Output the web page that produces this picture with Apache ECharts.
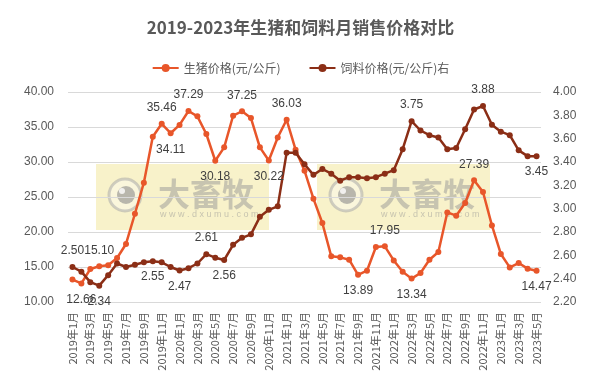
<!DOCTYPE html>
<html>
<head>
<meta charset="utf-8">
<script src="https://cdn.jsdelivr.net/npm/echarts@6/dist/echarts.min.js"></script>
<style>html,body{margin:0;padding:0;background:#fff}#c{width:601px;height:380px}</style>
</head>
<body>
<div id="c"></div>
<script>
var categories = [
'2019年1月','2019年2月','2019年3月','2019年4月','2019年5月','2019年6月','2019年7月','2019年8月','2019年9月','2019年10月','2019年11月','2019年12月',
'2020年1月','2020年2月','2020年3月','2020年4月','2020年5月','2020年6月','2020年7月','2020年8月','2020年9月','2020年10月','2020年11月','2020年12月',
'2021年1月','2021年2月','2021年3月','2021年4月','2021年5月','2021年6月','2021年7月','2021年8月','2021年9月','2021年10月','2021年11月','2021年12月',
'2022年1月','2022年2月','2022年3月','2022年4月','2022年5月','2022年6月','2022年7月','2022年8月','2022年9月','2022年10月','2022年11月','2022年12月',
'2023年1月','2023年2月','2023年3月','2023年4月','2023年5月'];
var pigPrice = [13.2,12.66,14.71,15.10,15.25,16.29,18.29,22.61,27.04,33.61,35.46,34.11,
35.3,37.29,36.52,34.0,30.18,32.09,36.61,37.25,36.28,32.09,30.22,33.51,
36.03,31.76,28.76,24.76,21.28,16.52,16.38,16.04,13.89,14.47,17.86,17.95,
15.94,14.33,13.34,14.14,16.04,17.14,22.8,22.33,24.14,27.39,25.71,20.94,
16.86,14.94,15.57,14.76,14.47];
var feedPrice = [2.50,2.46,2.37,2.34,2.43,2.53,2.50,2.52,2.54,2.55,2.54,2.50,
2.47,2.49,2.53,2.61,2.58,2.56,2.69,2.75,2.78,2.93,2.99,3.02,
3.48,3.48,3.38,3.29,3.34,3.30,3.24,3.27,3.27,3.26,3.27,3.30,
3.33,3.51,3.75,3.67,3.63,3.61,3.51,3.52,3.68,3.85,3.88,3.72,
3.66,3.63,3.50,3.45,3.45];
var pigLabelsTop = [3,10,13,19,24,35,45];
var pigLabelsBottom = [1,11,16,22,32,38,52];
var feedLabelsTop = [0,15,38,46];
var feedLabelsBottom = [3,9,12,17,52];
var leftTicks = {min:10,max:40,interval:5};
var rightTicks = {min:2.2,max:4.0,interval:0.2};

var FONT = '"Liberation Sans","Noto Sans CJK SC",sans-serif';
var PIG = '#E8562A', FEED = '#8B2E16';

function build(values, top, bottom) {
  return values.map(function(v, i){
    var d = {value: v};
    if (top.indexOf(i) >= 0) d.label = {show:true, position:'top'};
    else if (bottom.indexOf(i) >= 0) d.label = {show:true, position:'bottom'};
    return d;
  });
}

function watermark(x, y) {
  var fillText = 'rgba(150,150,150,0.5)';
  return {
    type:'group', left:x, top:y, z:100, silent:true,
    children:[
      {type:'rect', shape:{x:0,y:0,width:173,height:66}, style:{fill:'rgba(232,214,90,0.32)'}},
      {type:'circle', shape:{cx:29,cy:31,r:16}, style:{fill:'rgba(255,255,255,0.35)', stroke:'rgba(170,170,170,0.55)', lineWidth:3}},
      {type:'circle', shape:{cx:30,cy:31,r:9}, style:{fill:'rgba(140,140,140,0.6)'}},
      {type:'circle', shape:{cx:26,cy:27,r:3}, style:{fill:'rgba(255,255,255,0.8)'}},
      {type:'text', style:{x:62,y:14,text:'大畜牧',font:'bold 32px "Noto Sans CJK SC",sans-serif',fill:fillText}},
      {type:'text', style:{x:64,y:46,text:'w w w . d x u m u . c o m',font:'9px "Liberation Sans",sans-serif',fill:fillText}}
    ]
  };
}

var chart = echarts.init(document.getElementById('c'), null, {renderer:'canvas'});
chart.setOption({
  animation:false,
  backgroundColor:'#fff',
  textStyle:{fontFamily:FONT},
  title:{text:'2019-2023年生猪和饲料月销售价格对比', left:'center', top:14,
    textStyle:{fontSize:17, fontWeight:'bold', color:'#595959', fontFamily:'"Noto Sans CJK SC",sans-serif'}},
  legend:{top:57, left:'center', itemWidth:26, itemHeight:10, itemGap:28,
    textStyle:{fontSize:12, color:'#595959', fontFamily:'"Noto Sans CJK SC",sans-serif'},
    data:['生猪价格(元/公斤)','饲料价格(元/公斤)右']},
  grid:{left:68, right:60, top:92, bottom:78},
  xAxis:{type:'category', data:categories, boundaryGap:true,
    axisLine:{show:false}, axisTick:{show:false},
    axisLabel:{interval:1, rotate:90, fontSize:11, color:'#595959', margin:10, fontFamily:'"Noto Sans CJK SC",sans-serif'}},
  yAxis:[
    {type:'value', min:leftTicks.min, max:leftTicks.max, interval:leftTicks.interval,
      axisLine:{show:false}, axisTick:{show:false},
      axisLabel:{fontSize:12, color:'#595959', margin:14, formatter:function(v){return v.toFixed(2);}},
      splitLine:{lineStyle:{color:'#d9d9d9', width:1}}},
    {type:'value', min:rightTicks.min, max:rightTicks.max, interval:rightTicks.interval,
      axisLine:{show:false}, axisTick:{show:false},
      axisLabel:{fontSize:12, color:'#595959', margin:12, formatter:function(v){return v.toFixed(2);}},
      splitLine:{show:false}}
  ],
  series:[
    {name:'生猪价格(元/公斤)', type:'line', yAxisIndex:0, data:build(pigPrice, pigLabelsTop, pigLabelsBottom),
      symbol:'circle', symbolSize:6, showAllSymbol:true, lineStyle:{color:PIG, width:2.5}, itemStyle:{color:PIG},
      labelLayout:{hideOverlap:false},
      label:{show:false, fontSize:12, color:'#404040', distance:7, formatter:function(p){return p.value.toFixed(2);}}},
    {name:'饲料价格(元/公斤)右', type:'line', yAxisIndex:1, data:build(feedPrice, feedLabelsTop, feedLabelsBottom),
      symbol:'circle', symbolSize:6, showAllSymbol:true, lineStyle:{color:FEED, width:2.5}, itemStyle:{color:FEED},
      labelLayout:{hideOverlap:false},
      label:{show:false, fontSize:12, color:'#404040', distance:7, formatter:function(p){return p.value.toFixed(2);}}}
  ],
  graphic:[watermark(96,164), watermark(317,164)]
});
</script>
</body>
</html>
